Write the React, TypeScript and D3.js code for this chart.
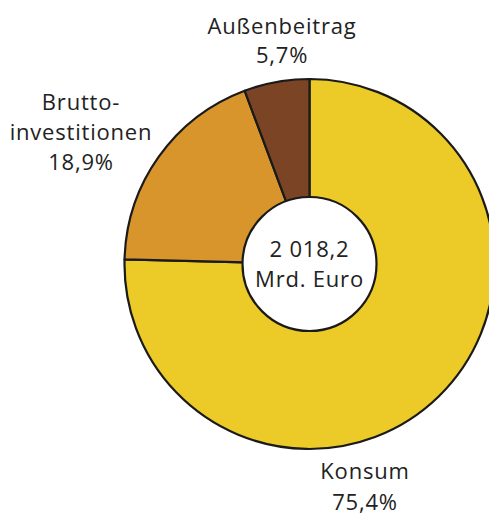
import * as d3 from 'd3'

const W = 489, H = 515
const CX = 309.5, CY = 264, R_OUT = 185, R_IN = 67

// Verwendung des BIP (Anteile in %)
const labels = ['Konsum', 'Bruttoinvestitionen', 'Außenbeitrag']
const shares = [75.4, 18.9, 5.7]
const colors = ['#ecca27', '#d8952b', '#7b4424']
const total = '2 018,2'
const unit = 'Mrd. Euro'

const FONT = '"Open Sans", sans-serif'

export default function App() {
  const data = labels.map((l, i) => ({ label: l, value: shares[i] }))
  const pie = d3.pie<{ label: string; value: number }>().sort(null).value((d) => d.value)
  const arcs = pie(data)
  const arc = d3.arc<d3.PieArcDatum<{ label: string; value: number }>>().innerRadius(0).outerRadius(R_OUT)

  const pct = (v: number) => v.toFixed(1).replace('.', ',') + '%'

  return (
    <svg width={W} height={H} style={{ position: 'absolute', left: 0, top: 0 }}>
      <rect width={W} height={H} fill="#fff" />
      <g transform={`translate(${CX},${CY})`}>
        {arcs.map((a, i) => (
          <path key={i} d={arc(a) || ''} fill={colors[i]} stroke="#1a1a1a" strokeWidth={2.2} strokeLinejoin="round" />
        ))}
        <circle r={R_IN} fill="#fff" stroke="#1a1a1a" strokeWidth={2.2} />
        <g fontFamily={FONT} fontSize={22} letterSpacing={0.8} fill="#222" textAnchor="middle">
          <text x={0} y={-7}>{total}</text>
          <text x={0} y={23}>{unit}</text>
        </g>
      </g>
      <g fontFamily={FONT} fontSize={22} letterSpacing={0.8} fill="#222" textAnchor="middle">
        <text x={282} y={34}>{labels[2]}</text>
        <text x={282} y={63}>{pct(shares[2])}</text>
        <text x={81} y={110}>Brutto-</text>
        <text x={81} y={140}>investitionen</text>
        <text x={81} y={170}>{pct(shares[1])}</text>
        <text x={365} y={479}>{labels[0]}</text>
        <text x={365} y={510}>{pct(shares[0])}</text>
      </g>
    </svg>
  )
}
